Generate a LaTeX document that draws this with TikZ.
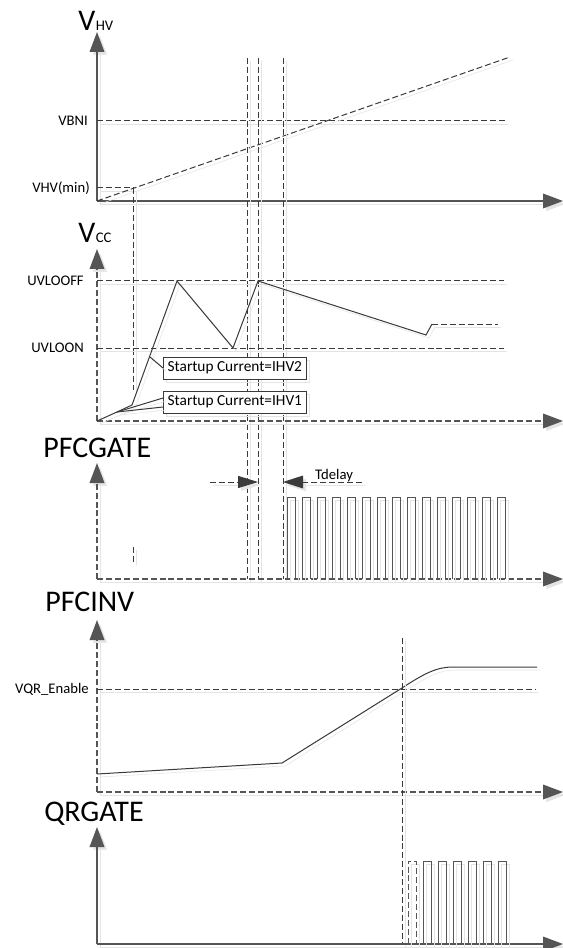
\documentclass[tikz,border=0pt]{standalone}
\usepackage{fontspec}
\setmainfont{Carlito}
\usetikzlibrary{arrows.meta}
\definecolor{ink}{HTML}{3A3A3A}
\definecolor{axgray}{HTML}{555555}
\definecolor{shade}{HTML}{E4E4E4}

\begin{document}
\begin{tikzpicture}[
    x=0.75pt, y=-0.75pt,
    font=\fontsize{11}{13}\selectfont,
    shdw/.style={preaction={draw=shade, transform canvas={shift={(3,3)}}}},
    axline/.style={draw=axgray, line width=1pt, shdw},
    dashes/.style={dash pattern=on 4.5pt off 2.2pt},
    tip/.style={-{Triangle[length=15pt,width=11pt]}},
    guide/.style={draw=ink, line width=0.75pt, dashes, shdw},
    wave/.style={draw=ink, line width=0.75pt, shdw},
    pulse/.style={draw=axgray, line width=0.75pt, shdw},
    lvl/.style={anchor=east, inner sep=0pt},
    ttl/.style={anchor=base west, inner sep=0pt, font=\fontsize{22.5}{24}\selectfont},
    sub/.style={font=\fontsize{11}{12}\selectfont},
    callout/.style={draw=ink, line width=0.75pt, fill=white, minimum width=107pt,
      minimum height=16.5pt, inner sep=1pt, anchor=west, shdw,
      font=\fontsize{11.5}{13}\selectfont}
  ]
  \fill[white] (0,0) rectangle (563,948);
  \useasboundingbox (0,0) rectangle (563,948);

  % ---- V_HV ----
  \coordinate (o1) at (97,201);
  \node[ttl] (vhv) at (78,31) {V};
  \node[ttl, sub] (vhvsub) at (vhv.base east) {HV};
  \draw[axline, tip] (o1) -- (97,32);
  \draw[axline, tip] (o1) -- (563,201);
  \node[lvl] (vbni) at (88,121) {VBNI};
  \node[lvl] (vhvmin) at (90,188) {VHV(min)};
  \draw[guide] (97,121) -- (505,121);
  \draw[guide] (97,188) -- (133,188);
  \draw[guide] (o1) -- (510,57);

  % time markers
  \draw[guide] (133,188) -- (133,390);
  \draw[guide] (133,547) -- (133,562);
  \foreach \t in {247,258,283}
    \draw[guide] (\t,58) -- (\t,579);

  % ---- V_CC ----
  \coordinate (o2) at (97,421);
  \node[ttl] (vcc) at (78,243) {V};
  \node[ttl, sub] (vccsub) at (vcc.base east) {CC};
  \draw[axline, dashes, tip] (o2) -- (97,249);
  \draw[axline, dashes, tip] (o2) -- (563,421);
  \node[lvl] (uvloff) at (84,281) {UVLOOFF};
  \node[lvl] (uvlon) at (84,348) {UVLOON};
  \draw[guide] (97,281) -- (504,281);
  \draw[guide] (97,348) -- (504,348);
  \draw[wave] (o2) -- (117,412) -- (132,405) -- (177,281) -- (233,348)
    -- (258,281) -- (426,335) -- (432,324);
  \draw[guide] (432,324) -- (498,324);

  \node[callout] (ihv2) at (163,368) {Startup Current=IHV2};
  \node[callout] (ihv1) at (163,402) {Startup Current=IHV1};
  \draw[wave] (150,357) -- (ihv2.west);
  \draw[wave] (117,412) -- (163,398);
  \draw[wave] (117,412) -- (163,407);

  % ---- PFCGATE ----
  \coordinate (o3) at (97,579);
  \node[ttl] (pfcgate) at (43,457) {PFCGATE};
  \draw[axline, dashes, tip] (o3) -- (97,463);
  \draw[axline, dashes, tip] (o3) -- (563,579);
  \draw[guide, -{Triangle[length=15pt,width=9pt]}] (210,482) -- (258,482);
  \draw[guide, -{Triangle[length=15pt,width=9.5pt]}] (362,482) -- (283,482);
  \node[anchor=base, inner sep=0pt] (tdelay) at (334,479) {Tdelay};
  \foreach \k in {0,...,14}
    \draw[pulse] ({287+15*\k},579) -- ++(0,-82) -- ++(8,0) -- ++(0,82);

  % ---- PFCINV ----
  \coordinate (o4) at (97,792);
  \node[ttl] (pfcinv) at (45,611) {PFCINV};
  \draw[axline, dashes, tip] (o4) -- (97,620);
  \draw[axline, dashes, tip] (o4) -- (563,792);
  \node[lvl] (vqr) at (89,689) {VQR\_Enable};
  \draw[guide] (97,689) -- (535,689);
  \draw[wave] (97,774) -- (282,763) -- (402,688)
    .. controls (425,673) and (437,667) .. (453,667) -- (537,667);
  \draw[guide] (402,638) -- (402,945);

  % ---- QRGATE ----
  \coordinate (o5) at (97,944);
  \node[ttl] (qrgate) at (44,821) {QRGATE};
  \draw[axline, tip] (o5) -- (97,827);
  \draw[axline, tip] (o5) -- (563,944);
  \draw[pulse, dashes] (408,944) -- ++(0,-83) -- ++(8,0) -- ++(0,83);
  \foreach \k in {0,...,5}
    \draw[pulse] ({423+15*\k},944) -- ++(0,-83) -- ++(8,0) -- ++(0,83);
\end{tikzpicture}
\end{document}
